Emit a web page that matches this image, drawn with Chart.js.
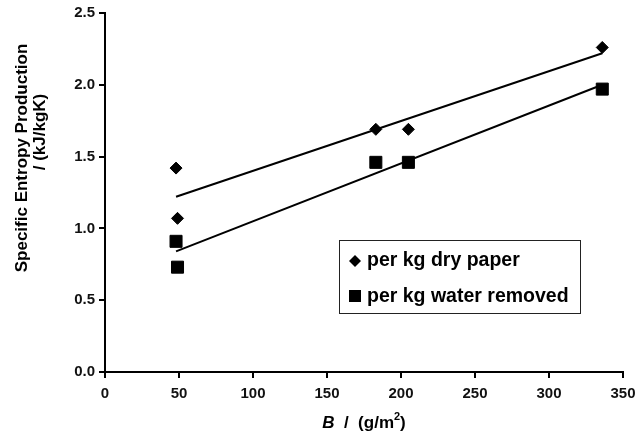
<!DOCTYPE html>
<html>
<head>
<meta charset="utf-8">
<script src="https://cdn.jsdelivr.net/npm/chart.js@4.4.1/dist/chart.umd.min.js"></script>
<style>
  html, body { margin: 0; padding: 0; background: #fff; }
  #wrap { width: 639px; height: 442px; position: relative; }
</style>
</head>
<body>
<div id="wrap"><canvas id="chart" width="639" height="442"></canvas></div>
<script>
// basis weight B (g/m2) for each sample
var basisWeight = [48, 49, 183, 205, 336];
// specific entropy production, kJ/kgK
var perDryPaper = [1.42, 1.07, 1.69, 1.69, 2.26];
var perWaterRemoved = [0.91, 0.73, 1.46, 1.46, 1.97];

// trend line end points
var trendX = [48, 336];
var trendDry = [1.22, 2.22];
var trendWater = [0.84, 2.00];

var xTicks = [0, 50, 100, 150, 200, 250, 300, 350];
var yTicks = [0.0, 0.5, 1.0, 1.5, 2.0, 2.5];

var seriesNames = ['per kg dry paper', 'per kg water removed'];
var yTitle = ['Specific Entropy Production', '/ (kJ/kgK)'];

function toPoints(xs, ys) {
  var pts = [];
  for (var i = 0; i < xs.length; i++) pts.push({ x: xs[i], y: ys[i] });
  return pts;
}

var FONT = 'Liberation Sans, Arial, Helvetica, sans-serif';

// draws the axis titles and the boxed legend
var extras = {
  id: 'extras',
  afterDraw: function (chart) {
    var ctx = chart.ctx;
    var area = chart.chartArea;
    ctx.save();
    ctx.fillStyle = '#000';

    // y title, two rotated lines
    ctx.save();
    ctx.font = 'bold 17px ' + FONT;
    ctx.textAlign = 'center';
    ctx.textBaseline = 'middle';
    ctx.translate(22, 158);
    ctx.rotate(-Math.PI / 2);
    ctx.fillText(yTitle[0], 0, 0);
    ctx.restore();
    ctx.save();
    ctx.font = 'bold 17px ' + FONT;
    ctx.textAlign = 'center';
    ctx.textBaseline = 'middle';
    ctx.translate(40, 132);
    ctx.rotate(-Math.PI / 2);
    ctx.fillText(yTitle[1], 0, 0);
    ctx.restore();

    // x title: italic B / (g/m^2)
    var parts = [
      { t: 'B', f: 'italic bold 17px ' + FONT, dy: 0 },
      { t: '  /  (g/m', f: 'bold 17px ' + FONT, dy: 0 },
      { t: '2', f: 'bold 11px ' + FONT, dy: -6 },
      { t: ')', f: 'bold 17px ' + FONT, dy: 0 }
    ];
    var total = 0;
    parts.forEach(function (p) { ctx.font = p.f; p.w = ctx.measureText(p.t).width; total += p.w; });
    var cx = (area.left + area.right) / 2;
    var x = cx - total / 2;
    ctx.textAlign = 'left';
    ctx.textBaseline = 'middle';
    parts.forEach(function (p) {
      ctx.font = p.f;
      ctx.fillText(p.t, x, 423 + p.dy);
      x += p.w;
    });

    // legend box
    ctx.strokeStyle = '#222';
    ctx.lineWidth = 1;
    ctx.strokeRect(339.5, 240.5, 241, 73);
    ctx.font = 'bold 19.5px ' + FONT;
    ctx.textBaseline = 'middle';
    // diamond
    ctx.beginPath();
    ctx.moveTo(355, 255); ctx.lineTo(361, 261); ctx.lineTo(355, 267); ctx.lineTo(349, 261);
    ctx.closePath();
    ctx.fill();
    ctx.fillText(seriesNames[0], 367, 261);
    // square
    ctx.fillRect(349, 290, 12, 12);
    ctx.fillText(seriesNames[1], 367, 297);
    ctx.restore();
  }
};

new Chart(document.getElementById('chart'), {
  type: 'scatter',
  data: {
    datasets: [
      {
        label: seriesNames[0],
        data: toPoints(basisWeight, perDryPaper),
        pointStyle: 'rectRot',
        pointRadius: 6,
        backgroundColor: '#000',
        borderColor: '#000',
        borderWidth: 1
      },
      {
        label: seriesNames[1],
        data: toPoints(basisWeight, perWaterRemoved),
        pointStyle: 'rect',
        pointRadius: 8.5,
        backgroundColor: '#000',
        borderColor: '#000',
        borderWidth: 1
      },
      {
        label: 'trend dry',
        data: toPoints(trendX, trendDry),
        showLine: true,
        pointRadius: 0,
        borderColor: '#000',
        borderWidth: 2
      },
      {
        label: 'trend water',
        data: toPoints(trendX, trendWater),
        showLine: true,
        pointRadius: 0,
        borderColor: '#000',
        borderWidth: 2
      }
    ]
  },
  options: {
    responsive: false,
    animation: false,
    layout: { padding: { top: 13, right: 16, left: 0, bottom: 0 } },
    plugins: { legend: { display: false }, tooltip: { enabled: false } },
    scales: {
      x: {
        type: 'linear',
        min: 0, max: 350,
        afterBuildTicks: function (s) { s.ticks = xTicks.map(function (v) { return { value: v }; }); },
        afterFit: function (s) { s.height = 70; s.paddingLeft = 0; s.paddingRight = 0; },
        border: { color: '#000', width: 2 },
        grid: { drawOnChartArea: false, drawTicks: true, tickLength: 6, color: '#000', lineWidth: 2 },
        ticks: { color: '#111', padding: 7, maxRotation: 0, font: { family: FONT, size: 15, weight: 'bold' } }
      },
      y: {
        type: 'linear',
        min: 0, max: 2.5,
        afterBuildTicks: function (s) { s.ticks = yTicks.map(function (v) { return { value: v }; }); },
        afterFit: function (s) { s.width = 105; s.paddingTop = 0; s.paddingBottom = 0; },
        border: { color: '#000', width: 2 },
        grid: { drawOnChartArea: false, drawTicks: true, tickLength: 6, color: '#000', lineWidth: 2 },
        ticks: {
          color: '#111', padding: 4,
          font: { family: FONT, size: 15, weight: 'bold' },
          callback: function (v) { return Number(v).toFixed(1); }
        }
      }
    }
  },
  plugins: [extras]
});
</script>
</body>
</html>
